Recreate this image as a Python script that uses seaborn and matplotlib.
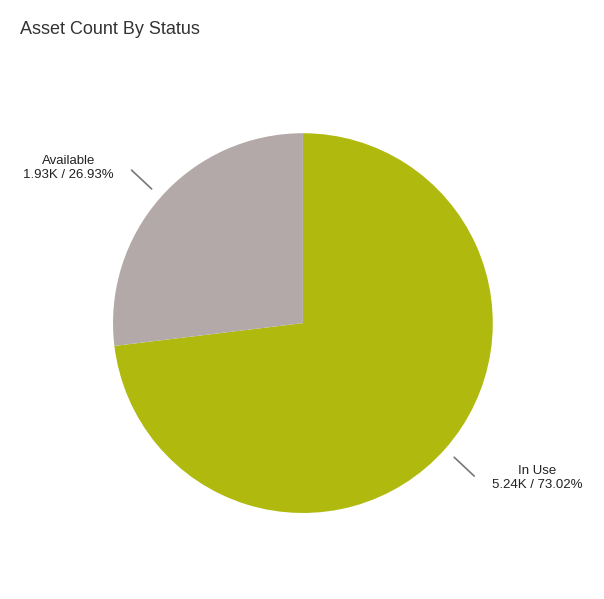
import numpy as np
import matplotlib
matplotlib.use("Agg")
import matplotlib.pyplot as plt
import seaborn as sns

sns.set_style("white")
plt.rcParams['font.family'] = ['Liberation Sans', 'DejaVu Sans']

categories = ["In Use", "Available"]
counts = [5240, 1930]
count_labels = ["5.24K", "1.93K"]
percents = [73.02, 26.93]
colors = ["#b0b90e", "#b3a9a9"]

fig = plt.figure(figsize=(6.04, 5.99), dpi=100)
fig.patch.set_facecolor("white")
fig.text(0.033, 0.95, "Asset Count By Status", fontsize=13, color="#333333", va="center")

ax = fig.add_axes([0.187, 0.1436, 0.629, 0.634])
wedges, _ = ax.pie(counts, colors=colors, startangle=90, counterclock=False,
                   wedgeprops=dict(linewidth=0))
ax.set_aspect("equal")
for w, cat, cl, p in zip(wedges, categories, count_labels, percents):
    ang = np.deg2rad((w.theta1 + w.theta2) / 2)
    x, y = np.cos(ang), np.sin(ang)
    sx = np.sign(x)
    ax.annotate("", xy=(1.05 * x, 1.05 * y), xytext=(1.22 * x, 1.23 * y),
                arrowprops=dict(arrowstyle="-", color="#777777", lw=1.2))
    ax.text(1.22 * x + sx * 0.32, 1.23 * y, f"{cat}\n{cl} / {p:.2f}%",
            ha="center", va="center", fontsize=9.5, color="#222222")
ax.set_xlim(-1, 1)
ax.set_ylim(-1, 1)
fig.savefig("out.png", dpi=100)
